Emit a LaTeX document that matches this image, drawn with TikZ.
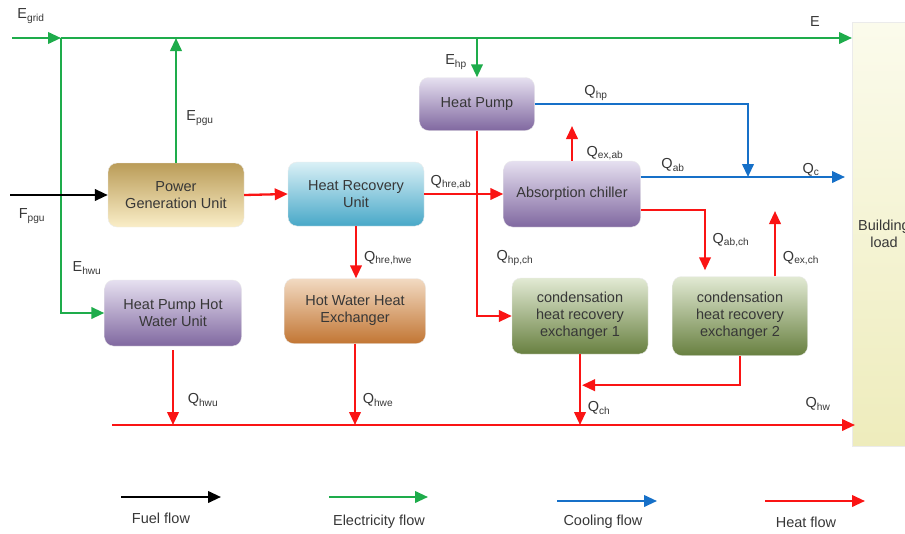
\documentclass[tikz,border=0pt]{standalone}
\usepackage{fontspec}
\setmainfont{Liberation Sans}
\usetikzlibrary{arrows.meta,calc}
\usepackage{xcolor}
\definecolor{elecgreen}{RGB}{30,172,75}
\definecolor{heatred}{RGB}{250,20,20}
\definecolor{coolblue}{RGB}{22,112,200}
\definecolor{boxtext}{RGB}{55,55,55}
\definecolor{goldtop}{RGB}{186,156,88}
\definecolor{goldbot}{RGB}{250,238,200}
\definecolor{bluetop}{RGB}{218,240,246}
\definecolor{bluebot}{RGB}{72,168,200}
\definecolor{purptop}{RGB}{230,224,240}
\definecolor{purpbot}{RGB}{128,104,160}
\definecolor{orantop}{RGB}{242,218,194}
\definecolor{oranbot}{RGB}{194,118,52}
\definecolor{greentop}{RGB}{226,234,212}
\definecolor{greenbot}{RGB}{104,128,64}
\definecolor{loadtop}{RGB}{251,251,236}
\definecolor{loadbot}{RGB}{238,236,188}
\newcommand{\myfont}{\fontsize{14.5}{17}\selectfont}
\tikzset{
    unitsty/.style={rounded corners=9pt,minimum width=136pt,minimum height=64pt,align=center,text=boxtext,draw=black!8,font=\myfont},
    goldsty/.style={unitsty,top color=goldtop,bottom color=goldbot},
    bluesty/.style={unitsty,top color=bluetop,bottom color=bluebot},
    purpsty/.style={unitsty,top color=purptop,bottom color=purpbot},
    oransty/.style={unitsty,top color=orantop,bottom color=oranbot},
    greensty/.style={unitsty,top color=greentop,bottom color=greenbot},
    loadsty/.style={draw=black!8,top color=loadtop,bottom color=loadbot,align=center,text=boxtext,font=\myfont},
    flowsty/.style={line width=2.3pt,-{Triangle[length=13pt,width=11.5pt]}},
    fuelsty/.style={flowsty,draw=black},
    elecsty/.style={flowsty,draw=elecgreen,color=elecgreen},
    coolsty/.style={flowsty,draw=coolblue,color=coolblue},
    heatsty/.style={flowsty,draw=heatred,color=heatred},
    lblsty/.style={font=\myfont,text=boxtext,inner sep=0pt},
}

\begin{document}
\begin{tikzpicture}[x=1pt,y=-1pt]
  \clip (0,0) rectangle (905,533);

  % units
  \node (pgu)  [goldsty]  at (176,195) {Power\\Generation Unit};
  \node (hru)  [bluesty]  at (356,194) {Heat Recovery\\Unit};
  \node (hp)   [purpsty,minimum width=115pt,minimum height=53pt] at (477,104) {Heat Pump};
  \node (abs)  [purpsty,minimum width=137pt,minimum height=66pt] at (572,194) {Absorption chiller};
  \node (hwu)  [purpsty,minimum width=137pt,minimum height=66pt] at (173,313) {Heat Pump Hot\\Water Unit};
  \node (hwe)  [oransty,minimum width=141pt,minimum height=65pt] at (355,311) {Hot Water Heat\\Exchanger};
  \node (chr1) [greensty,minimum height=76pt] at (580,316) {condensation\\heat recovery\\exchanger 1};
  \node (chr2) [greensty,minimum width=135pt,minimum height=79pt] at (740,316) {condensation\\heat recovery\\exchanger 2};
  \node (bld)  [loadsty,minimum width=64pt,minimum height=424pt] at (884,234) {Building\\load};

  % junctions and free ends
  \coordinate (gridin) at (12,38);
  \coordinate (gridj)  at (61,38);
  \coordinate (eend)   at (852,38);
  \coordinate (fuelin) at (10,195);
  \coordinate (qcj)    at (748,177);
  \coordinate (qcend)  at (845,177);
  \coordinate (exab)   at (572,126);
  \coordinate (exch)   at (775,211);
  \coordinate (hwin)   at (112,425);
  \coordinate (hwend)  at (855,425);

  % electricity
  \draw[elecsty] (gridin) -- (gridj);
  \draw[elecsty] (gridj) -- (eend);
  \draw[elecsty] (gridj) |- (hwu.west);
  \draw[elecsty] (pgu.north) -- (pgu.north |- gridj);
  \draw[elecsty] (hp.north |- gridj) -- (hp.north);

  % fuel
  \draw[fuelsty] (fuelin) -- (pgu.west);

  % heat
  \draw[heatsty] (hp.south) |- (chr1.west);
  \draw[heatsty] (pgu.east) -- (hru.west);
  \draw[heatsty] (hru.east) -- (hru.east -| abs.west);
  \draw[heatsty] (hru.south) -- (hru.south |- hwe.north);
  \draw[heatsty] (abs.north) -- (exab);
  \draw[heatsty] ([yshift=-16pt]abs.east) -| ([xshift=-35pt,yshift=6pt]chr2.north);
  \draw[heatsty] ([xshift=35pt]chr2.north) -- (exch);
  \draw[heatsty] (chr2.south) |- ([xshift=2pt,yshift=-31pt]chr1.south);
  \draw[heatsty] (chr1.south) -- (chr1.south |- hwin);
  \draw[heatsty] ([yshift=-4pt]hwu.south) -- (hwu.south |- hwin);
  \draw[heatsty] (hwe.south) -- (hwe.south |- hwin);
  \draw[heatsty] (hwin) -- (hwend);

  % cooling
  \draw[coolsty] (hp.east) -| (qcj);
  \draw[coolsty] ([yshift=17pt]abs.east) -- (qcend);

  % flow labels
  \node (lgrid)  [lblsty] at (31,16)   {E\textsubscript{grid}};
  \node (le)     [lblsty] at (815,22)  {E};
  \node (lpgu)   [lblsty] at (200,118) {E\textsubscript{pgu}};
  \node (lhp)    [lblsty] at (456,62)  {E\textsubscript{hp}};
  \node (lfpgu)  [lblsty] at (32,216)  {F\textsubscript{pgu}};
  \node (lhwu)   [lblsty] at (87,268)  {E\textsubscript{hwu}};
  \node (lhreab) [lblsty] at (451,182) {Q\textsubscript{hre,ab}};
  \node (lhrehw) [lblsty] at (388,258) {Q\textsubscript{hre,hwe}};
  \node (lqhp)   [lblsty] at (596,93)  {Q\textsubscript{hp}};
  \node (lexab)  [lblsty] at (605,153) {Q\textsubscript{ex,ab}};
  \node (lqab)   [lblsty] at (673,165) {Q\textsubscript{ab}};
  \node (lqc)    [lblsty] at (811,170) {Q\textsubscript{c}};
  \node (labch)  [lblsty] at (731,240) {Q\textsubscript{ab,ch}};
  \node (lexch)  [lblsty] at (801,258) {Q\textsubscript{ex,ch}};
  \node (lhpch)  [lblsty] at (515,258) {Q\textsubscript{hp,ch}};
  \node (lqch)   [lblsty] at (599,408) {Q\textsubscript{ch}};
  \node (lqhw)   [lblsty] at (818,404) {Q\textsubscript{hw}};
  \node (lqhwu)  [lblsty] at (203,400) {Q\textsubscript{hwu}};
  \node (lqhwe)  [lblsty] at (378,400) {Q\textsubscript{hwe}};

  % legend
  \coordinate (fuela) at (121,497);  \coordinate (fuelb) at (221,497);
  \coordinate (eleca) at (329,497);  \coordinate (elecb) at (428,497);
  \coordinate (coola) at (557,501);  \coordinate (coolb) at (657,501);
  \coordinate (heata) at (765,501);  \coordinate (heatb) at (865,501);
  \draw[fuelsty] (fuela) -- (fuelb);
  \draw[elecsty] (eleca) -- (elecb);
  \draw[coolsty] (coola) -- (coolb);
  \draw[heatsty] (heata) -- (heatb);
  \node (lfuel) [lblsty] at (161,518) {Fuel flow};
  \node (lelec) [lblsty] at (379,522) {Electricity flow};
  \node (lcool) [lblsty] at (603,522) {Cooling flow};
  \node (lheat) [lblsty] at (806,522) {Heat flow};
\end{tikzpicture}
\end{document}
